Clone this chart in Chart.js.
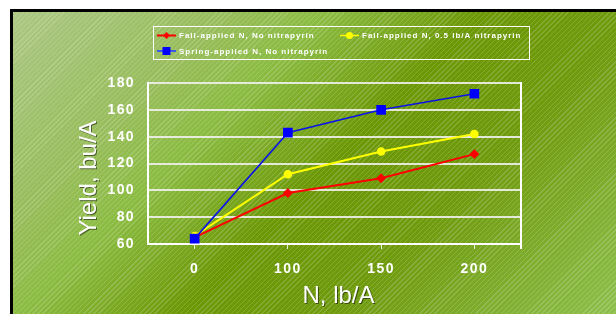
<!DOCTYPE html>
<html lang="en">
<head>
<meta charset="UTF-8">
<title>Yield vs N rate</title>
<script src="https://cdn.jsdelivr.net/npm/chart.js"></script>
<style>
  body {
    margin: 0;
    width: 616px;
    height: 314px;
    overflow: hidden;
    position: relative;
    background: #fff;
    font-family: "Liberation Sans", Arial, sans-serif;
  }
  #bg {
    position: absolute;
    left: 10px;
    top: 9px;
    width: 620px;
    height: 320px;
    border-left: 3px solid #000;
    border-top: 3px solid #000;
    background:
      repeating-linear-gradient(135deg, rgba(255,255,255,0.17) 0px, rgba(255,255,255,0.17) 1px, rgba(255,255,255,0) 1px, rgba(255,255,255,0) 3.6px),
      linear-gradient(135deg, #acc784 0%, #98bd5c 22%, #8bbc42 33%, #6c9806 50%, #6e9a0c 66%, #92c454 100%);
  }
  #wrap {
    position: absolute;
    left: 0;
    top: 0;
    width: 616px;
    height: 314px;
  }
</style>
</head>
<body>
<div id="bg"></div>
<div id="wrap"><canvas id="grafico" width="616" height="314"></canvas></div>
<script>
  const categorias = ['0', '100', '150', '200'];
  const rotulos = [
    'Fall-applied N, No nitrapyrin',
    'Fall-applied N, 0.5 lb/A nitrapyrin',
    'Spring-applied N, No nitrapyrin'
  ];
  const outonoSem = [65, 98, 109, 127];
  const outonoCom = [66, 112, 129, 142];
  const primavera = [64, 143, 160, 172];
  const yTicks = [60, 80, 100, 120, 140, 160, 180];
  const tituloX = 'N, lb/A';
  const tituloY = 'Yield, bu/A';

  const fonte = '"Liberation Sans", Arial, sans-serif';
  Chart.defaults.font.family = fonte;

  // espacamento das letras dos ticks
  const espacamento = {
    id: 'espacamento',
    beforeUpdate(chart) { chart.ctx.letterSpacing = '1.4px'; },
    beforeDraw(chart) { chart.ctx.letterSpacing = '1.4px'; }
  };

  // borda direita da area do grafico
  const moldura = {
    id: 'moldura',
    beforeDatasetsDraw(chart) {
      const { ctx, chartArea } = chart;
      ctx.save();
      ctx.strokeStyle = '#fff';
      ctx.lineWidth = 2;
      ctx.beginPath();
      ctx.moveTo(chartArea.right, chartArea.top - 1);
      ctx.lineTo(chartArea.right, chartArea.bottom + 5);
      ctx.stroke();
      ctx.restore();
    }
  };

  function marcador(ctx, estilo, x, y, cor) {
    ctx.fillStyle = cor;
    ctx.beginPath();
    if (estilo === 'rect') {
      ctx.rect(x - 4, y - 4, 8, 8);
    } else if (estilo === 'rectRot') {
      ctx.moveTo(x, y - 3.5);
      ctx.lineTo(x + 3.5, y);
      ctx.lineTo(x, y + 3.5);
      ctx.lineTo(x - 3.5, y);
      ctx.closePath();
    } else {
      ctx.arc(x, y, 3.6, 0, Math.PI * 2);
    }
    ctx.fill();
  }

  // legenda e titulos dos eixos
  const extras = {
    id: 'extras',
    afterDraw(chart) {
      const { ctx, chartArea } = chart;
      ctx.save();
      ctx.letterSpacing = '0px';

      ctx.strokeStyle = '#fff';
      ctx.lineWidth = 1;
      ctx.strokeRect(153.5, 26.5, 376, 33);

      const slots = [[157, 35.5], [340, 35.5], [157, 51]];
      chart.data.datasets.forEach((ds, i) => {
        const [x, y] = slots[i];
        ctx.strokeStyle = ds.legendLine || ds.borderColor;
        ctx.lineWidth = ds.legendWidth || 2;
        ctx.beginPath();
        ctx.moveTo(x, y);
        ctx.lineTo(x + 19, y);
        ctx.stroke();
        marcador(ctx, ds.pointStyle, x + 9.5, y, ds.pointBackgroundColor);
        ctx.letterSpacing = '1px';
        ctx.fillStyle = '#fff';
        ctx.font = 'bold 8px ' + fonte;
        ctx.textBaseline = 'middle';
        ctx.textAlign = 'left';
        ctx.fillText(ds.label, x + 22, y + 0.5);
        ctx.letterSpacing = '0px';
      });

      ctx.font = '24px ' + fonte;
      ctx.fillStyle = '#fff';
      ctx.shadowColor = 'rgba(0,0,0,0.5)';
      ctx.shadowOffsetX = 1;
      ctx.shadowOffsetY = 1;
      ctx.shadowBlur = 0.5;
      ctx.textAlign = 'center';
      ctx.textBaseline = 'alphabetic';
      ctx.fillText(tituloX, (chartArea.left + chartArea.right) / 2 + 4, 303);

      ctx.translate(96, 178);
      ctx.rotate(-Math.PI / 2);
      ctx.fillText(tituloY, 0, 0);
      ctx.restore();
    }
  };

  const ctx = document.getElementById('grafico').getContext('2d');
  new Chart(ctx, {
    type: 'line',
    data: {
      labels: categorias,
      datasets: [
        {
          label: rotulos[0],
          data: outonoSem,
          borderColor: '#ff0000',
          backgroundColor: '#ff0000',
          pointBackgroundColor: '#ff0000',
          pointBorderColor: '#ff0000',
          pointStyle: 'rectRot',
          pointRadius: 3.5,
          borderWidth: 2,
          order: 3
        },
        {
          label: rotulos[1],
          data: outonoCom,
          borderColor: '#ffff00',
          backgroundColor: '#ffff00',
          pointBackgroundColor: '#ffff00',
          pointBorderColor: '#ffff00',
          pointStyle: 'circle',
          pointRadius: 3.3,
          borderWidth: 2,
          legendWidth: 1.5,
          order: 2
        },
        {
          label: rotulos[2],
          data: primavera,
          borderColor: '#0a14e6',
          backgroundColor: '#0000ff',
          pointBackgroundColor: '#0000ff',
          pointBorderColor: '#0000ff',
          pointStyle: 'rect',
          pointRadius: 5.7,
          borderWidth: 1.6,
          legendLine: '#3c5ae6',
          order: 1
        }
      ]
    },
    options: {
      responsive: false,
      animation: false,
      devicePixelRatio: 1,
      layout: { padding: { top: 83, right: 95, left: 0, bottom: 0 } },
      plugins: {
        legend: { display: false },
        tooltip: { enabled: false }
      },
      elements: { line: { tension: 0 } },
      scales: {
        x: {
          offset: true,
          afterFit(scale) { scale.height = 70; },
          grid: {
            drawOnChartArea: false,
            drawTicks: true,
            tickLength: 5,
            color: '#e8eee0',
            lineWidth: 1
          },
          border: { color: '#fff', width: 2 },
          ticks: {
            color: '#fff',
            padding: 12,
            font: { size: 14, weight: 'bold' }
          }
        },
        y: {
          min: yTicks[0],
          max: yTicks[yTicks.length - 1],
          afterFit(scale) { scale.width = 148; },
          afterBuildTicks(scale) { scale.ticks = yTicks.map(v => ({ value: v })); },
          grid: {
            drawTicks: false,
            color: 'rgba(240,240,235,0.9)',
            lineWidth: 2
          },
          border: { color: '#fff', width: 2 },
          ticks: {
            color: '#fff',
            padding: 13,
            font: { size: 14, weight: 'bold' }
          }
        }
      }
    },
    plugins: [espacamento, moldura, extras]
  });
</script>
</body>
</html>
